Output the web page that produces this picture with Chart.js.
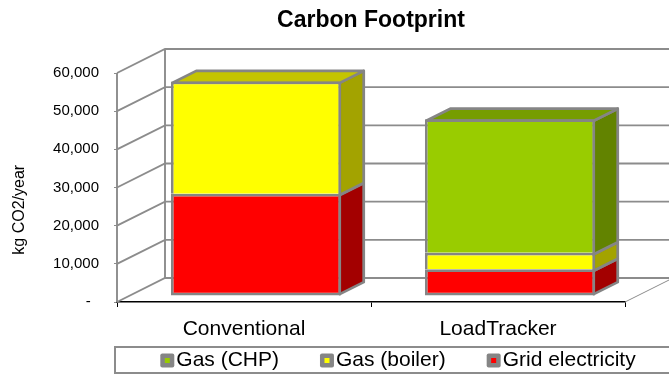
<!DOCTYPE html>
<html>
<head>
<meta charset="utf-8">
<script src="https://cdn.jsdelivr.net/npm/chart.js@4/dist/chart.umd.min.js"></script>
<style>
  html, body { margin: 0; padding: 0; background: #fff; }
</style>
</head>
<body>
<canvas id="carbonChart" width="669" height="374"></canvas>
<script>
var categories = ['Conventional', 'LoadTracker'];
var gridElectricity = [26800, 7000];
var gasBoiler = [29400, 4300];
var gasChp = [null, 35000];
var yTicks = [0, 10000, 20000, 30000, 40000, 50000, 60000];
var seriesNames = ['Grid electricity', 'Gas (boiler)', 'Gas (CHP)'];
var seriesColors = ['#ff0000', '#ffff00', '#99cc00'];

// depth of the back wall, bars sit in the middle half of it
var wall = { dx: 48, dy: -24 };
var edgeGray = '#858585';
var lineGray = '#8c8c8c';
var fontFamily = '"Liberation Sans", Arial, sans-serif';

Chart.defaults.font.family = fontFamily;
Chart.defaults.color = '#000';

function shade(hex, f) {
  var n = parseInt(hex.slice(1), 16);
  var r = Math.round(((n >> 16) & 255) * f);
  var g = Math.round(((n >> 8) & 255) * f);
  var b = Math.round((n & 255) * f);
  return 'rgb(' + r + ',' + g + ',' + b + ')';
}

function fillPoly(ctx, pts, fill) {
  ctx.beginPath();
  ctx.moveTo(pts[0][0], pts[0][1]);
  for (var i = 1; i < pts.length; i++) ctx.lineTo(pts[i][0], pts[i][1]);
  ctx.closePath();
  ctx.fillStyle = fill;
  ctx.fill();
  ctx.stroke();
}

var depthPlugin = {
  id: 'depth3d',
  beforeDatasetsDraw: function(chart) {
    var ctx = chart.ctx, a = chart.chartArea, y = chart.scales.y;

    // walls and floor
    ctx.save();
    ctx.strokeStyle = lineGray;
    ctx.lineWidth = 1.9;
    ctx.beginPath();
    yTicks.forEach(function(v) {
      var py = y.getPixelForValue(v);
      ctx.moveTo(a.left, py);
      ctx.lineTo(a.left + wall.dx, py + wall.dy);
      ctx.lineTo(a.right + wall.dx, py + wall.dy);
    });
    ctx.moveTo(a.left, a.top);
    ctx.lineTo(a.left, a.bottom);
    ctx.moveTo(a.left + wall.dx, a.top + wall.dy);
    ctx.lineTo(a.left + wall.dx, a.bottom + wall.dy);
    ctx.stroke();
    ctx.lineWidth = 1;
    ctx.beginPath();
    ctx.moveTo(a.right, a.bottom);
    ctx.lineTo(a.right + wall.dx, a.bottom + wall.dy);
    ctx.stroke();
    ctx.restore();

    // bar tops and sides, then chart.js draws the fronts in the same shifted frame
    ctx.save();
    ctx.translate(wall.dx / 4, wall.dy / 4);
    var bdx = wall.dx / 2, bdy = wall.dy / 2;
    ctx.strokeStyle = edgeGray;
    ctx.lineWidth = 2.75;
    ctx.lineJoin = 'round';
    var e = 1.375;
    var n = chart.data.datasets.length;
    chart.data.datasets.forEach(function(ds, i) {
      var meta = chart.getDatasetMeta(i);
      meta.data.forEach(function(bar, j) {
        if (ds.data[j] == null) return;
        var p = bar.getProps(['x', 'y', 'base', 'width'], true);
        var l = p.x - p.width / 2, r = p.x + p.width / 2;
        var t = Math.min(p.y, p.base), b = Math.max(p.y, p.base);
        var bot = i === 0 ? b - e : b + e;
        fillPoly(ctx, [[r - e, t + e], [r - e + bdx, t + e + bdy], [r - e + bdx, bot + bdy], [r - e, bot]], shade(ds.backgroundColor, 0.64));
        var top = true;
        for (var k = i + 1; k < n; k++) {
          if (chart.data.datasets[k].data[j] != null) top = false;
        }
        if (top) {
          fillPoly(ctx, [[l + e, t + e], [l + e + bdx, t + e + bdy], [r - e + bdx, t + e + bdy], [r - e, t + e]], shade(ds.backgroundColor, 0.77));
        }
      });
    });
  },
  afterDatasetsDraw: function(chart) {
    chart.ctx.restore();
  }
};

var legendPlugin = {
  id: 'boxLegend',
  afterDraw: function(chart) {
    var ctx = chart.ctx, a = chart.chartArea;
    var top = chart.scales.x.bottom;
    var cy = top + 13.5;
    ctx.save();
    ctx.strokeStyle = lineGray;
    ctx.lineWidth = 2;
    ctx.strokeRect(a.left - 2, top, chart.width, chart.height - top - 1);
    ctx.font = '21px ' + fontFamily;
    ctx.textBaseline = 'middle';
    var items = chart.data.datasets.slice().reverse();
    var gap = 41, box = 14;
    var total = 0;
    items.forEach(function(ds) { total += box + 2 + ctx.measureText(ds.label).width; });
    total += gap * (items.length - 1);
    var x = (a.left + a.right + wall.dx) / 2 + 3 - total / 2;
    items.forEach(function(ds) {
      ctx.fillStyle = edgeGray;
      ctx.beginPath();
      ctx.roundRect(x, cy - box / 2, box, box, 2);
      ctx.fill();
      ctx.fillStyle = ds.backgroundColor;
      ctx.fillRect(x + 4.5, cy - 2.5, 5, 5);
      ctx.fillStyle = '#000';
      ctx.fillText(ds.label, x + box + 2, cy);
      x += box + 2 + ctx.measureText(ds.label).width + gap;
    });
    ctx.restore();
  }
};

new Chart(document.getElementById('carbonChart'), {
  type: 'bar',
  data: {
    labels: categories,
    datasets: [
      { label: seriesNames[0], data: gridElectricity, backgroundColor: seriesColors[0], borderSkipped: false },
      { label: seriesNames[1], data: gasBoiler, backgroundColor: seriesColors[1] },
      { label: seriesNames[2], data: gasChp, backgroundColor: seriesColors[2] }
    ]
  },
  options: {
    responsive: false,
    animation: false,
    devicePixelRatio: 1,
    layout: { padding: { left: 0, right: 44, top: 0, bottom: 27 } },
    datasets: {
      bar: {
        categoryPercentage: 1,
        barPercentage: 0.67,
        borderWidth: 2.75,
        borderColor: edgeGray,
        borderSkipped: 'start',
        clip: false
      }
    },
    plugins: {
      legend: { display: false },
      tooltip: { enabled: false },
      title: {
        display: true,
        text: 'Carbon Footprint',
        fullSize: false,
        color: '#000',
        font: { size: 23, weight: 'bold' },
        padding: { top: 7, bottom: 38.4 }
      }
    },
    scales: {
      x: {
        stacked: true,
        grid: { drawOnChartArea: false, tickLength: 5, color: '#000', lineWidth: 1 },
        border: { color: '#000', width: 1.5 },
        ticks: { color: '#000', font: { size: 21 }, padding: 10 },
        afterFit: function(s) { s.height = 45; }
      },
      y: {
        stacked: true,
        min: 0,
        max: 60000,
        afterBuildTicks: function(s) {
          s.ticks = yTicks.map(function(v) { return { value: v }; });
        },
        ticks: {
          font: { size: 15 },
          color: '#000',
          padding: 15,
          callback: function(v) { return v === 0 ? '-  ' : v.toLocaleString('en-US'); }
        },
        grid: { drawOnChartArea: false, tickLength: 3, color: lineGray },
        border: { display: false },
        title: {
          display: true,
          text: 'kg CO2/year          ',
          font: { size: 16 },
          color: '#000',
          padding: { top: 10, bottom: 0 }
        },
        afterFit: function(s) { s.width = 117; }
      }
    }
  },
  plugins: [depthPlugin, legendPlugin]
});
</script>
</body>
</html>
